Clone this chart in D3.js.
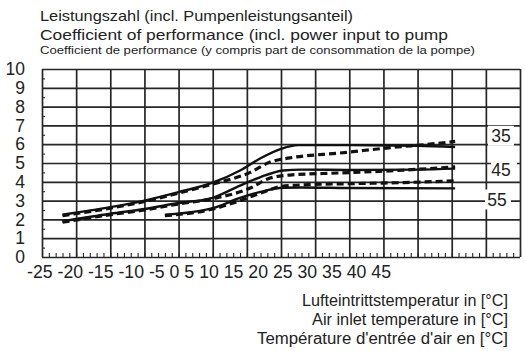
<!DOCTYPE html>
<html>
<head>
<meta charset="utf-8">
<script src="https://cdn.jsdelivr.net/npm/d3@7"></script>
<style>
	body { margin: 0; background: #fff; }
	svg text { font-family: 'Liberation Sans', Arial, sans-serif; fill: #222; }
</style>
</head>
<body>
<div id="chart"></div>
<script>
// ---------------- data ----------------
const xTicks = [-25, -20, -15, -10, -5, 0, 5, 10, 15, 20, 25, 30, 35, 40, 45];
const yTicks = [0, 1, 2, 3, 4, 5, 6, 7, 8, 9, 10];

const titleLines = [
	'Leistungszahl (incl. Pumpenleistungsanteil)',
	'Coefficient of performance (incl. power input to pump',
	'Coefficient de performance (y compris part de consommation de la pompe)',
];
const xTitleLines = ['Lufteintrittstemperatur in [°C]', 'Air inlet temperature in [°C]', "Température d'entrée d'air en [°C]"];

const seriesNames = ['35', '45', '55'];

// solid curves
const s35x = [-22, -15, -10, -5, 0, 4, 7, 10, 12.5, 20, 30, 35.5];
const s35y = [2.25, 2.65, 3.0, 3.45, 3.95, 4.6, 5.25, 5.75, 5.95, 5.95, 5.92, 5.85];
const s45x = [-22, -15, -10, -5, 0, 4, 7, 10.3, 13, 20, 30, 35.5];
const s45y = [1.9, 2.3, 2.55, 2.87, 3.15, 3.8, 4.25, 4.6, 4.65, 4.63, 4.65, 4.7];
const s55x = [-7, 0, 4, 7, 10.3, 13, 20, 35.5];
const s55y = [2.25, 2.6, 3.14, 3.46, 3.68, 3.7, 3.67, 3.65];

// dashed curves
const d35x = [-22, -15, -10, -5, 0, 5.5, 8.4, 11.3, 18.6, 27, 31.8, 35.5];
const d35y = [2.2, 2.6, 2.95, 3.4, 3.88, 4.5, 5.05, 5.27, 5.53, 5.85, 6.0, 6.15];
const d45x = [-22, -15, -10, -5, 0, 5.5, 8.4, 11.3, 18.6, 27, 35.5];
const d45y = [1.85, 2.25, 2.5, 2.82, 3.1, 3.67, 4.2, 4.36, 4.47, 4.6, 4.8];
const d55x = [-7, 0, 4, 7, 10, 14, 20, 27, 35.5];
const d55y = [2.2, 2.55, 3.0, 3.4, 3.75, 3.85, 3.9, 3.95, 4.05];

// label anchor (COP level) for each series on the right
const labelLevels = [6.45, 4.63, 3.06];

// ---------------- chart ----------------
const width = 526;
const height = 351;

const svg = d3.select('#chart').append('svg').attr('width', width).attr('height', height);

const x = d3.scaleLinear().domain([-25, 45]).range([42, 520]);
const y = d3.scaleLinear().domain([0, 10]).range([257, 69]);

// titles
const titleSizes = [14.5, 14.5, 11];
const titleY = [21, 40, 54];
const titleLen = [313, 408, 435];
titleLines.forEach((t, i) => {
	svg.append('text')
		.attr('x', 40)
		.attr('y', titleY[i])
		.attr('font-size', titleSizes[i])
		.attr('textLength', titleLen[i])
		.attr('lengthAdjust', 'spacingAndGlyphs')
		.text(t);
});

// grid
const grid = svg.append('g').attr('class', 'grid');
grid.append('g')
	.attr('transform', `translate(0,${y(0)})`)
	.call(d3.axisBottom(x).tickValues(xTicks).tickSize(-(y(0) - y(10))).tickFormat(''))
	.call((g) => g.select('.domain').remove());
grid.append('g')
	.attr('transform', `translate(${x(-25)},0)`)
	.call(d3.axisLeft(y).tickValues(yTicks).tickSize(-(x(45) - x(-25))).tickFormat(''))
	.call((g) => g.select('.domain').remove());
grid.selectAll('line').attr('stroke', '#262626').attr('stroke-width', 1.7);

// minor ticks
const minorX = svg.append('g')
	.attr('transform', `translate(0,${y(0)})`)
	.call(d3.axisBottom(x).tickValues(d3.range(-25, 46, 1)).tickSize(-4).tickFormat(''));
minorX.select('.domain').remove();
const minorY = svg.append('g')
	.attr('transform', `translate(${x(-25)},0)`)
	.call(d3.axisLeft(y).tickValues(d3.range(0.5, 10, 1)).tickSize(-3).tickFormat(''));
minorY.select('.domain').remove();
minorX.selectAll('line').attr('stroke', '#262626').attr('stroke-width', 1.1);
minorY.selectAll('line').attr('stroke', '#262626').attr('stroke-width', 1.1);

// y labels
const yLab = svg.append('g')
	.attr('transform', `translate(${x(-25)},0)`)
	.call(d3.axisLeft(y).tickValues(yTicks).tickSize(0).tickPadding(17));
yLab.select('.domain').remove();
yLab.selectAll('text').attr('font-size', 17.5).attr('font-family', "'Liberation Sans', Arial, sans-serif").attr('fill', '#222');

// x labels: typed as a single run under the grid, as in the original
const xLab = svg.append('text').attr('x', 27).attr('y', 278).attr('font-size', 17.7);
xTicks.forEach((t, i) => {
	xLab.append('tspan').text((i ? ' ' : '') + t);
});

// curves
const line = d3.line().x((d) => x(d[0])).y((d) => y(d[1])).curve(d3.curveMonotoneX);
const zip = (a, b) => a.map((v, i) => [v, b[i]]);

const solid = [zip(s35x, s35y), zip(s45x, s45y), zip(s55x, s55y)];
const dashed = [zip(d35x, d35y), zip(d45x, d45y), zip(d55x, d55y)];

svg.append('g')
	.selectAll('path')
	.data(dashed)
	.join('path')
	.attr('d', line)
	.attr('fill', 'none')
	.attr('stroke', '#111')
	.attr('stroke-width', 3.2)
	.attr('stroke-dasharray', '7,4');

svg.append('g')
	.selectAll('path')
	.data(solid)
	.join('path')
	.attr('d', line)
	.attr('fill', 'none')
	.attr('stroke', '#111')
	.attr('stroke-width', 2.4);

// series labels at right, on white patches
const lab = svg.append('g');
const labX = [501, 501, 497];
const boxLeft = [488, 491, 485];
seriesNames.forEach((n, i) => {
	const cy = y(labelLevels[i]);
	lab.append('rect')
		.attr('x', boxLeft[i])
		.attr('y', cy - 10)
		.attr('width', 26)
		.attr('height', 20)
		.attr('fill', '#fff');
	lab.append('text')
		.attr('x', labX[i])
		.attr('y', cy)
		.attr('dy', '0.36em')
		.attr('text-anchor', 'middle')
		.attr('font-size', 17.5)
		.text(n);
});

// x axis title
const xTitleLen = [206, 196, 251];
xTitleLines.forEach((t, i) => {
	svg.append('text')
		.attr('x', 508)
		.attr('y', 306 + i * 19)
		.attr('text-anchor', 'end')
		.attr('font-size', 16)
		.attr('textLength', xTitleLen[i])
		.attr('lengthAdjust', 'spacingAndGlyphs')
		.text(t);
});
</script>
</body>
</html>
